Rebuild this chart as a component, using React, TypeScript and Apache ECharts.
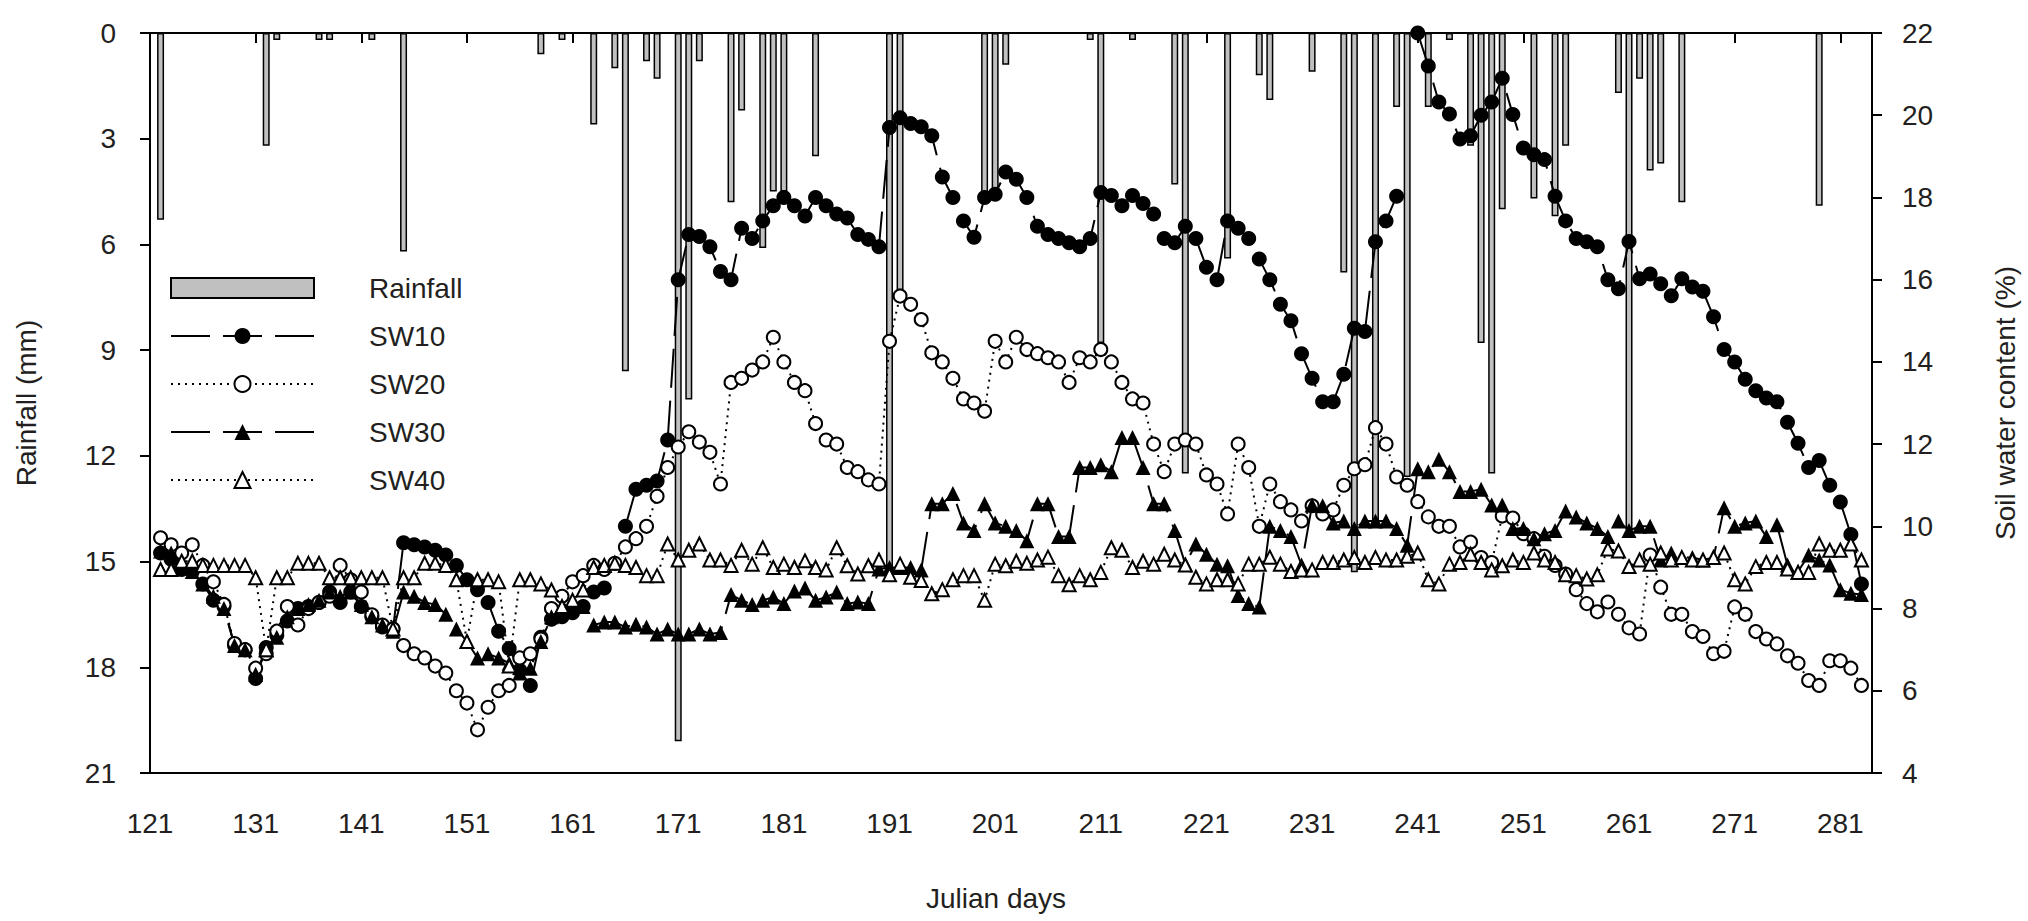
import { useEffect, useRef } from "react";
import * as echarts from "echarts";

const FIRST_DAY = 122;

const sw10 = [
  9.35, 9.2, 8.95, 8.9, 8.6, 8.2, 8.05, 7.1, 7.0, 6.3,
  7.05, 7.35, 7.7, 8.0, 8.05, 8.15, 8.4, 8.15, 8.4, 8.05,
  7.8, 7.55, 7.5, 9.6, 9.55, 9.5, 9.42, 9.3, 9.05, 8.7,
  8.46, 8.15, 7.45, 7.03, 6.5, 6.13, 7.3, 7.74, 7.8, 7.9,
  8.05, 8.4, 8.5, null, 10.0, 10.9, 11.0, 11.1, 12.1, 16.0,
  17.1, 17.05, 16.8, 16.2, 16.0, 17.25, 17.0, 17.43, 17.8, 18.0,
  17.8, 17.55, 18.0, 17.8, 17.6, 17.5, 17.1, 16.98, 16.8, 19.7,
  19.94, 19.8, 19.72, 19.5, 18.5, 18.0, 17.43, 17.03, 18.0, 18.08,
  18.62, 18.44, 18.0, 17.3, 17.1, 17.0, 16.9, 16.8, 17.0, 18.12,
  18.05, 17.8, 18.05, 17.85, 17.6, 17.0, 16.9, 17.3, 17.0, 16.3,
  16.0, 17.43, 17.25, 17.0, 16.5, 16.0, 15.4, 15.0, 14.2, 13.6,
  13.03, 13.03, 13.7, 14.82, 14.74, 16.92, 17.43, 18.03, null, 22.0,
  21.2, 20.32, 20.03, 19.42, 19.5, 20.0, 20.32, 20.9, 20.02, 19.2,
  19.04, 18.92, 18.03, 17.43, 17.0, 16.92, 16.8, 16.0, 15.78, 16.93,
  16.02, 16.14, 15.9, 15.61, 16.02, 15.82, 15.72, 15.1, 14.3, 14.0,
  13.58, 13.3, 13.12, 13.03, 12.53, 12.02, 11.43, 11.6, 11.0, 10.59,
  9.8, 8.6,
];

const sw20 = [
  9.72, 9.55, 9.35, 9.55, 9.05, 8.65, 8.1, 7.15, 7.0, 6.55,
  6.9, 7.45, 8.05, 7.6, 8.0, 8.15, 8.3, 9.05, 8.7, 8.4,
  7.85, 7.6, 7.5, 7.1, 6.9, 6.8, 6.6, 6.43, 6.0, 5.7,
  5.05, 5.6, 6.0, 6.13, 6.8, 6.9, 7.26, 8.0, 8.3, 8.65,
  8.8, 9.05, 8.95, 9.1, 9.5, 9.7, 10.0, 10.73, 11.43, 11.93,
  12.3, 12.05, 11.8, 11.03, 13.5, 13.6, 13.8, 14.0, 14.6, 14.0,
  13.5, 13.3, 12.5, 12.1, 12.0, 11.43, 11.33, 11.13, 11.03, 14.5,
  15.6, 15.4, 15.03, 14.22, 14.0, 13.6, 13.1, 13.0, 12.8, 14.5,
  14.0, 14.6, 14.3, 14.2, 14.1, 14.0, 13.5, 14.1, 14.0, 14.3,
  14.0, 13.5, 13.1, 13.0, 12.0, 11.33, 12.0, 12.1, 12.0, 11.25,
  11.03, 10.3, 12.0, 11.43, 10.0, 11.03, 10.6, 10.4, 10.13, 10.5,
  10.3, 10.4, 11.0, 11.4, 11.5, 12.4, 12.0, 11.2, 11.0, 10.6,
  10.23, 10.0, 10.0, 9.5, 9.62, 9.24, 9.12, 10.25, 10.2, 9.82,
  9.7, 9.27, 9.05, 8.84, 8.46, 8.12, 7.92, 8.16, 7.86, 7.53,
  7.38, 9.3, 8.52, 7.86, 7.86, 7.44, 7.32, 6.9, 6.96, 8.04,
  7.86, 7.44, 7.26, 7.14, 6.85, 6.67, 6.25, 6.13, 6.73, 6.73,
  6.55, 6.13,
];

const sw30 = [
  9.4, 9.35, 9.0, 8.9, 8.6, 8.3, 8.0, 7.1, 7.0, 6.4,
  7.0, 7.3, 7.8, 8.0, 8.1, 8.2, 8.4, 8.3, 8.4, 8.1,
  7.8, 7.6, 7.45, 8.4, 8.3, 8.15, 8.1, 7.86, 7.5, 7.2,
  6.8, 6.9, 6.8, 6.67, 6.43, 6.55, 7.2, 7.8, 8.0, 8.05,
  8.05, 7.6, 7.67, 7.67, 7.55, 7.62, 7.55, 7.38, 7.5, 7.38,
  7.38, 7.5, 7.38, 7.42, 8.34, 8.2, 8.1, 8.2, 8.28, 8.12,
  8.43, 8.5, 8.2, 8.28, 8.4, 8.12, 8.16, 8.12, 8.96, 9.0,
  9.0, 9.0, 8.94, 10.55, 10.55, 10.8, 10.08, 9.9, 10.55, 10.08,
  10.0, 9.9, 9.65, 10.55, 10.55, 9.75, 9.75, 11.43, 11.43, 11.5,
  11.33, 12.16, 12.16, 11.43, 10.55, 10.55, 9.9, 9.08, 9.57, 9.32,
  9.08, 9.04, 8.32, 8.12, 8.04, 10.0, 9.9, 9.75, 9.06, 10.52,
  10.5, 10.08, 10.13, 9.95, 10.13, 10.13, 10.13, 9.95, 9.54, 11.4,
  11.33, 11.63, 11.33, 10.85, 10.85, 10.9, 10.52, 10.52, 9.95, 9.95,
  9.7, 9.82, 9.9, 10.37, 10.23, 10.08, 9.95, 9.75, 10.13, 9.9,
  10.0, 10.0, 9.18, 9.35, 9.24, 9.24, 9.18, 9.24, 10.45, 10.0,
  10.08, 10.13, 9.75, 10.04, 9.06, 8.9, 9.3, 9.18, 9.06, 8.46,
  8.37, 8.34,
];

const sw40 = [
  8.95, 8.95, 9.15, 9.15, 9.05, 9.05, 9.05, 9.05, 9.05, 8.75,
  7.0, 8.75, 8.75, 9.1, 9.1, 9.1, 8.75, 8.75, 8.75, 8.75,
  8.75, 8.75, 7.5, 8.75, 8.75, 9.1, 9.1, 9.05, 8.7, 7.2,
  8.7, 8.7, 8.65, 6.6, 8.7, 8.7, 8.6, 8.45, 8.05, 8.2,
  8.45, 9.0, 9.05, 9.1, 9.05, 9.0, 8.8, 8.8, 9.57, 9.18,
  9.42, 9.57, 9.18, 9.18, 9.05, 9.42, 9.08, 9.48, 9.0, 9.08,
  9.0, 9.16, 9.0, 8.94, 9.48, 9.04, 8.84, 9.04, 9.18, 8.82,
  9.08, 8.76, 8.68, 8.36, 8.46, 8.7, 8.8, 8.8, 8.2, 9.08,
  9.04, 9.15, 9.1, 9.18, 9.25, 8.8, 8.58, 8.8, 8.7, 8.88,
  9.48, 9.42, 9.0, 9.15, 9.08, 9.32, 9.18, 9.06, 8.76, 8.6,
  8.7, 8.7, 8.6, 9.08, 9.08, 9.25, 9.08, 8.9, 8.94, 8.94,
  9.12, 9.12, 9.18, 9.24, 9.12, 9.24, 9.18, 9.18, 9.27, 9.35,
  8.7, 8.6, 9.08, 9.12, 9.32, 9.12, 8.94, 9.04, 9.18, 9.12,
  9.35, 9.18, 9.12, 8.82, 8.8, 8.72, 8.82, 9.45, 9.4, 9.02,
  9.18, 9.08, 9.35, 9.18, 9.24, 9.18, 9.18, 9.24, 9.35, 8.7,
  8.6, 9.02, 9.12, 9.12, 8.96, 8.88, 8.88, 9.57, 9.42, 9.42,
  9.57, 9.18,
];

const rainDays = [
  122, 132, 133, 137, 138, 142, 145, 158, 160, 163, 165, 166, 168, 169,
  171, 172, 173, 176, 177, 179, 180, 181, 184, 191, 192, 200, 201, 202,
  210, 211, 214, 218, 219, 223, 226, 227, 231, 234, 235, 237, 239, 240,
  242, 244, 246, 247, 248, 249, 252, 254, 255, 260, 261, 262, 263, 264,
  266, 279,
];
const rainMm = [
  5.3, 3.2, 0.2, 0.2, 0.2, 0.2, 6.2, 0.6, 0.2, 2.6, 1.0, 9.6, 0.8, 1.3,
  20.1, 10.4, 0.8, 4.8, 2.2, 6.1, 4.5, 4.5, 3.5, 15.2, 7.3, 4.6, 4.5, 0.9,
  0.2, 8.8, 0.2, 4.3, 12.5, 6.4, 1.2, 1.9, 1.1, 6.8, 15.3, 14.0, 2.1, 12.6,
  2.1, 0.2, 3.2, 8.8, 12.5, 5.0, 4.7, 5.2, 3.2, 1.7, 14.1, 1.3, 3.9, 3.7,
  4.8, 4.9,
];

const X_MIN = 121;
const X_MAX = 284;
const X_STEP = 10;

const FONT = "'Liberation Sans', Arial, Helvetica, sans-serif";
const TEXT = "#231f20";
const FS = 28;

function pairs(values: (number | null)[]) {
  return values.map((v, i) => [FIRST_DAY + i, v]);
}

export default function App() {
  const ref = useRef<HTMLDivElement>(null);

  useEffect(() => {
    if (!ref.current) return;
    const chart = echarts.init(ref.current, null, { renderer: "svg" });

    const lineBase = {
      type: "line",
      yAxisIndex: 1,
      showAllSymbol: true,
      silent: true,
      connectNulls: false,
      emphasis: { disabled: true },
    };

    const option: any = {
      animation: false,
      backgroundColor: "#ffffff",
      textStyle: { fontFamily: FONT },
      grid: {
        left: 150,
        right: 156,
        top: 33,
        bottom: 148,
        show: true,
        borderColor: "#000",
        borderWidth: 2,
        backgroundColor: "transparent",
      },
      legend: {
        orient: "vertical",
        left: 170,
        top: 274,
        padding: 0,
        itemGap: 20,
        itemWidth: 143,
        itemHeight: 20,
        selectedMode: false,
        textStyle: { fontSize: FS, color: TEXT, fontFamily: FONT, padding: [0, 0, 0, 50] },
        data: [
          { name: "Rainfall", icon: "rect" },
          { name: "SW10" },
          { name: "SW20" },
          { name: "SW30" },
          { name: "SW40" },
        ],
      },
      xAxis: {
        type: "value",
        min: X_MIN,
        max: X_MAX,
        interval: X_STEP,
        name: "Julian days",
        nameLocation: "middle",
        nameGap: 111,
        nameTextStyle: { fontSize: FS, color: TEXT, fontFamily: FONT, padding: [0, 30, 0, 0] },
        axisLine: { lineStyle: { color: "#000", width: 2 } },
        axisTick: { length: 10, lineStyle: { color: "#000", width: 2 } },
        axisLabel: {
          fontSize: FS,
          color: TEXT,
          fontFamily: FONT,
          margin: 36,
          formatter: (v: number) => ((v - X_MIN) % X_STEP === 0 ? String(v) : ""),
        },
        splitLine: { show: false },
      },
      yAxis: [
        {
          type: "value",
          position: "left",
          inverse: true,
          min: 0,
          max: 21,
          interval: 3,
          name: "Rainfall (mm)",
          nameLocation: "middle",
          nameGap: 110,
          nameTextStyle: { fontSize: FS, color: TEXT, fontFamily: FONT },
          axisLine: { show: true, lineStyle: { color: "#000", width: 2 } },
          axisTick: { show: true, length: 10, lineStyle: { color: "#000", width: 2 } },
          axisLabel: { fontSize: FS, color: TEXT, fontFamily: FONT, margin: 34 },
          splitLine: { show: false },
        },
        {
          type: "value",
          position: "right",
          min: 4,
          max: 22,
          interval: 2,
          name: "Soil water content (%)",
          nameLocation: "middle",
          nameGap: 119,
          nameTextStyle: { fontSize: FS, color: TEXT, fontFamily: FONT },
          axisLine: { show: true, lineStyle: { color: "#000", width: 2 } },
          axisTick: { show: true, length: 10, lineStyle: { color: "#000", width: 2 } },
          axisLabel: { fontSize: FS, color: TEXT, fontFamily: FONT, margin: 30 },
          splitLine: { show: false },
        },
      ],
      series: [
        {
          name: "Rainfall",
          type: "bar",
          yAxisIndex: 0,
          barWidth: 7,
          silent: true,
          data: rainDays.map((d, i) => [d, rainMm[i]]),
          itemStyle: { color: "#c0c0c0", borderColor: "#000", borderWidth: 1.5 },
        },
        {
          ...lineBase,
          name: "SW10",
          data: pairs(sw10),
          symbol: "circle",
          symbolSize: 15,
          itemStyle: { color: "#000" },
          lineStyle: { color: "#000", width: 2, type: [39, 13] },
        },
        {
          ...lineBase,
          name: "SW20",
          data: pairs(sw20),
          symbol: "circle",
          symbolSize: 13,
          itemStyle: { color: "#fff", borderColor: "#000", borderWidth: 2 },
          lineStyle: { color: "#000", width: 2, type: [2, 5] },
        },
        {
          ...lineBase,
          name: "SW30",
          data: pairs(sw30),
          symbol: "triangle",
          symbolSize: 15,
          itemStyle: { color: "#000" },
          lineStyle: { color: "#000", width: 2, type: [39, 13] },
        },
        {
          ...lineBase,
          name: "SW40",
          data: pairs(sw40),
          symbol: "triangle",
          symbolSize: 13,
          itemStyle: { color: "#fff", borderColor: "#000", borderWidth: 2 },
          lineStyle: { color: "#000", width: 2, type: [2, 5] },
        },
      ],
    };

    chart.setOption(option);
    return () => chart.dispose();
  }, []);

  return (
    <div
      ref={ref}
      style={{ position: "fixed", left: 0, top: 0, width: "2028px", height: "921px", background: "#fff" }}
    />
  );
}
